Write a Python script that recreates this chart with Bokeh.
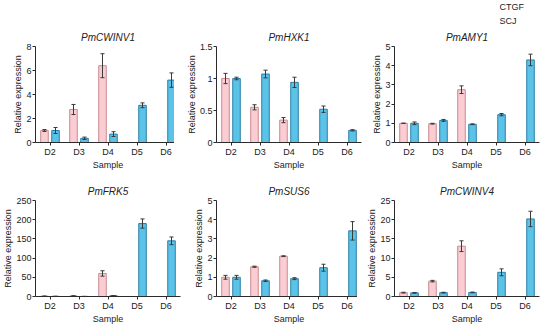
from bokeh.plotting import figure
from bokeh.layouts import gridplot
from bokeh.models import ColumnDataSource, FactorRange, Range1d, FixedTicker, Legend, LegendItem
from bokeh.transform import dodge
from bokeh.embed import file_html
from bokeh.resources import INLINE

samples = ["D2", "D3", "D4", "D5", "D6"]
series = ["CTGF", "SCJ"]

genes = ["PmCWINV1", "PmHXK1", "PmAMY1", "PmFRK5", "PmSUS6", "PmCWINV4"]
y_max = [8, 1.5, 5, 250, 5, 25]
y_ticks = [[0, 2, 4, 6, 8], [0, 0.5, 1.0, 1.5], [0, 1, 2, 3, 4, 5],
           [0, 50, 100, 150, 200, 250], [0, 1, 2, 3, 4, 5], [0, 5, 10, 15, 20, 25]]

# CTGF (D2, D3, D4 only)
ctgf_mean = [
    [1.0, 2.75, 6.4],
    [1.0, 0.55, 0.35],
    [1.0, 0.98, 2.75],
    [0.8, 1.5, 60.0],
    [1.0, 1.55, 2.1],
    [1.0, 4.0, 13.1],
]
ctgf_err = [
    [0.08, 0.42, 1.0],
    [0.08, 0.04, 0.04],
    [0.01, 0.02, 0.2],
    [0.3, 0.5, 7.0],
    [0.1, 0.03, 0.02],
    [0.1, 0.2, 1.4],
]
# SCJ (D2..D6)
scj_mean = [
    [1.0, 0.35, 0.7, 3.1, 5.2],
    [1.0, 1.07, 0.94, 0.52, 0.19],
    [1.0, 1.15, 0.95, 1.45, 4.3],
    [0.4, 0.2, 2.0, 190.0, 145.0],
    [1.0, 0.82, 0.93, 1.5, 3.42],
    [0.95, 1.0, 1.05, 6.3, 20.2],
]
scj_err = [
    [0.25, 0.1, 0.2, 0.2, 0.6],
    [0.02, 0.06, 0.08, 0.05, 0.01],
    [0.07, 0.05, 0.02, 0.06, 0.3],
    [0.2, 0.1, 0.5, 12.0, 10.0],
    [0.1, 0.04, 0.05, 0.18, 0.48],
    [0.1, 0.1, 0.1, 0.9, 2.0],
]

CTGF_FILL, CTGF_LINE = "#FACDD2", "#C98A90"
SCJ_FILL, SCJ_LINE = "#5BC2E8", "#2C7FA5"
ERR = "#3a3a3a"
FONT = "Liberation Sans"
AX = "#2b2b2b"

BW = 0.26
OFF = 0.19
CAP = 0.07
FH = 96
FW = 145
LEFT = [26, 26, 26, 30, 26, 26]
RIGHT = [3, 3, 8, 3, 3, 8]

figs = []
for i, g in enumerate(genes):
    row = i // 3
    p = figure(frame_width=FW, frame_height=FH, x_range=FactorRange(*samples, range_padding=0),
               y_range=Range1d(0, y_max[i]), output_backend="svg", toolbar_location=None,
               min_border_left=LEFT[i], min_border_right=RIGHT[i],
               min_border_top=20 if row == 0 else 28, min_border_bottom=10)
    p.title.text = g
    p.title.text_font = FONT
    p.title.text_font_style = "italic"
    p.title.text_font_size = "10px"
    p.title.text_color = "#222222"
    p.title.align = "center"
    p.title.standoff = 7
    p.outline_line_color = None
    p.grid.visible = False
    p.background_fill_color = None
    p.border_fill_color = None

    n = len(ctgf_mean[i])
    src_c = ColumnDataSource(dict(x=samples[:n], top=ctgf_mean[i],
                                  lo=[m - e for m, e in zip(ctgf_mean[i], ctgf_err[i])],
                                  hi=[m + e for m, e in zip(ctgf_mean[i], ctgf_err[i])]))
    src_s = ColumnDataSource(dict(x=samples, top=scj_mean[i],
                                  lo=[m - e for m, e in zip(scj_mean[i], scj_err[i])],
                                  hi=[m + e for m, e in zip(scj_mean[i], scj_err[i])]))

    p.vbar(x=dodge("x", -OFF, range=p.x_range), top="top", width=BW, source=src_c,
           fill_color=CTGF_FILL, line_color=CTGF_LINE, line_width=1)
    p.vbar(x=dodge("x", OFF, range=p.x_range), top="top", width=BW, source=src_s,
           fill_color=SCJ_FILL, line_color=SCJ_LINE, line_width=1)
    for src, o in ((src_c, -OFF), (src_s, OFF)):
        p.segment(x0=dodge("x", o, range=p.x_range), x1=dodge("x", o, range=p.x_range),
                  y0="lo", y1="hi", source=src, line_color=ERR, line_width=1)
        for yk in ("lo", "hi"):
            p.segment(x0=dodge("x", o - CAP, range=p.x_range), x1=dodge("x", o + CAP, range=p.x_range),
                      y0=yk, y1=yk, source=src, line_color=ERR, line_width=1)

    for ax in (p.xaxis[0], p.yaxis[0]):
        ax.axis_line_color = AX
        ax.major_tick_line_color = AX
        ax.major_tick_out = 3
        ax.major_tick_in = 0
        ax.minor_tick_line_color = None
        ax.major_label_text_font = FONT
        ax.major_label_text_font_size = "9px"
        ax.major_label_text_color = "#222222"
        ax.major_label_standoff = 1
        ax.axis_label_text_font = FONT
        ax.axis_label_text_font_size = "9px"
        ax.axis_label_text_font_style = "normal"
        ax.axis_label_text_color = "#222222"
        ax.axis_label_standoff = 0
    p.xaxis.axis_label = "Sample"
    p.yaxis.axis_label = "Relative expression"
    p.yaxis.ticker = FixedTicker(ticks=y_ticks[i])
    figs.append(p)

# legend strip above the third column
lf = figure(width=170, height=26, output_backend="svg", toolbar_location=None,
            x_range=Range1d(0, 1), y_range=Range1d(0, 1), x_axis_type=None, y_axis_type=None,
            min_border=0)
lf.outline_line_color = None
lf.grid.visible = False
lf.background_fill_color = None
lf.border_fill_color = None
r_c = lf.vbar(x=[], top=[], width=0.1, fill_color=CTGF_FILL, line_color=CTGF_LINE)
r_s = lf.vbar(x=[], top=[], width=0.1, fill_color=SCJ_FILL, line_color=SCJ_LINE)
leg = Legend(items=[LegendItem(label=series[0], renderers=[r_c]),
                    LegendItem(label=series[1], renderers=[r_s])],
             location="top_right", orientation="vertical",
             background_fill_alpha=0, border_line_color=None,
             padding=0, margin=2, spacing=4,
             glyph_width=10, glyph_height=7, label_height=10,
             label_standoff=4,
             label_text_font=FONT, label_text_font_size="9px",
             label_text_color="#222222")
lf.add_layout(leg, "center")

grid = gridplot([[None, None, lf], figs[0:3], figs[3:6]], toolbar_location=None)
open("out.html", "w").write(file_html(grid, INLINE))
